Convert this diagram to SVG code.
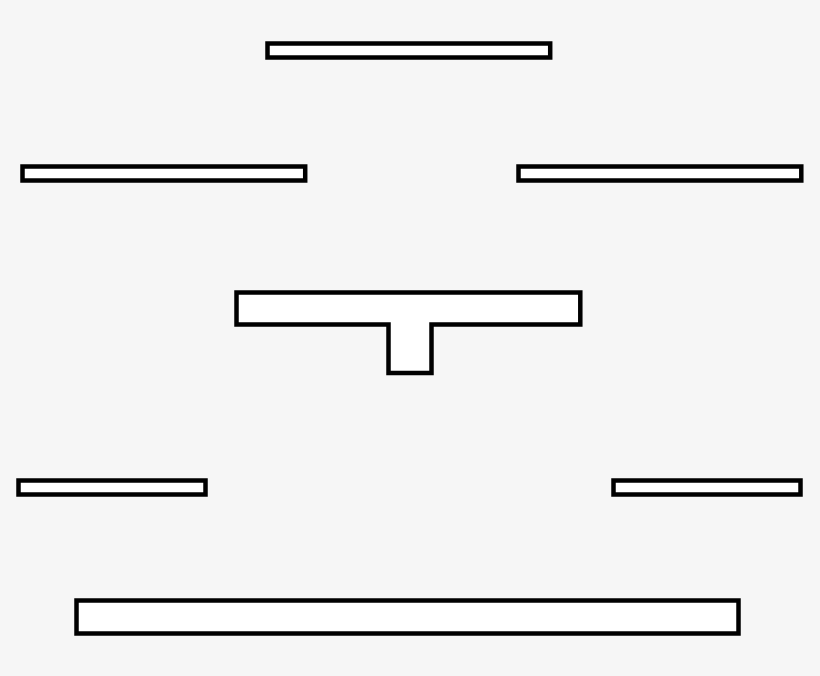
<svg xmlns="http://www.w3.org/2000/svg" width="820" height="676" viewBox="0 0 820 676">
<style>
.s{fill:#ffffff;stroke:#000000;stroke-width:4.5;stroke-linejoin:miter}
</style>
<rect x="0" y="0" width="820" height="676" fill="#f6f6f6"/>
<g id="top"><rect class="s" x="267.5" y="43.5" width="282.7" height="14"/></g>
<g id="upper-left"><rect class="s" x="22.5" y="166.5" width="282.7" height="14"/></g>
<g id="upper-right"><rect class="s" x="518.5" y="166.5" width="282.8" height="14"/></g>
<g id="tee"><path class="s" d="M236.5 292.5 H580.3 V324.5 H431.5 V373 H388.5 V324.5 H236.5 Z"/></g>
<g id="lower-left"><rect class="s" x="18.5" y="480.5" width="187" height="14"/></g>
<g id="lower-right"><rect class="s" x="613.5" y="480.5" width="187" height="14"/></g>
<g id="bottom"><rect class="s" x="76.5" y="600.5" width="662" height="33"/></g>
</svg>
